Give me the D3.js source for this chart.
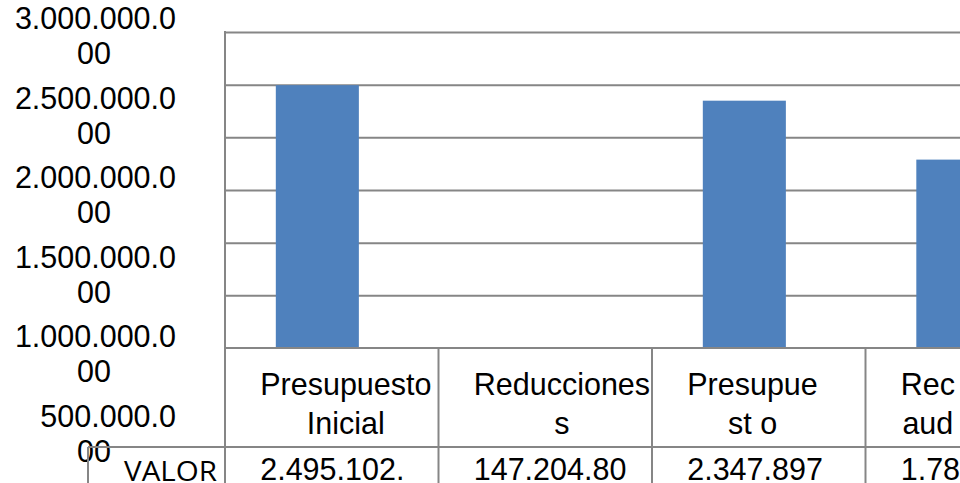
<!DOCTYPE html>
<html>
<head>
<meta charset="utf-8">
<script src="https://cdn.jsdelivr.net/npm/d3@7"></script>
<style>
  html, body { margin: 0; padding: 0; background: #fff; overflow: hidden; }
  svg { display: block; }
</style>
</head>
<body>
<svg id="chart" width="960" height="483"></svg>
<script>
// Budget summary: initial budget, reductions, final budget, collected
const categories = ["Presupuesto\nInicial", "Reducciones\ns", "Presupue\nst o", "Rec\naud"];
const values = [2495102.00, -147204.80, 2347897.20, 1788500.00];
const valueLabels = ["2.495.102.", "147.204.80", "2.347.897", "1.78"];
const rowHeader = "VALOR";
const yTicks = [500000, 1000000, 1500000, 2000000, 2500000, 3000000];
const yMax = 3000000;

const W = 960, H = 483;
const plotLeft = 225, plotTop = 32, plotBottom = 348, plotRight = 1079;
const rowH = 99, headerLeft = 88;
const gridColor = "#868686", barColor = "#4F81BD", textColor = "#000";
const font = "'Liberation Sans', Arial, sans-serif";
const fontSize = 30.5;

const svg = d3.select("#chart");

const x = d3.scaleBand().domain(categories).range([plotLeft, plotRight]);
const bw = x.bandwidth();
const y = d3.scaleLinear().domain([0, yMax]).range([plotBottom, plotTop]).clamp(true);
// wrapped tick labels run on their own, taller scale
const yLabel = d3.scaleLinear().domain([0, yMax]).range([506, 29]);

const numFmt = d3.formatLocale({ decimal: ".", thousands: ".", grouping: [3], currency: ["", ""] }).format(",.3f");

// gridlines (the top one closes the plot area)
const grid = svg.append("g")
  .attr("transform", `translate(${plotLeft},0)`)
  .call(d3.axisLeft(y).tickValues(yTicks).tickSize(-(plotRight - plotLeft)).tickFormat(""));
grid.select(".domain").remove();
grid.selectAll(".tick line").attr("stroke", gridColor).attr("stroke-width", 2);

// bars
svg.append("g").selectAll("rect")
  .data(categories.map((c, i) => ({ c, v: values[i] })))
  .join("rect")
  .attr("x", d => x(d.c) + bw * 0.238)
  .attr("width", bw * 0.389)
  .attr("y", d => y(Math.max(d.v, 0)))
  .attr("height", d => y(0) - y(Math.max(d.v, 0)))
  .attr("fill", barColor);

// y tick labels, wrapped over two lines
const tl = svg.append("g").attr("font-family", font).attr("font-size", fontSize).attr("fill", textColor);
yTicks.forEach(v => {
  const s = numFmt(v);
  tl.append("text").attr("x", 176).attr("y", yLabel(v)).attr("text-anchor", "end").text(s.slice(0, -2));
  tl.append("text").attr("x", 94).attr("y", yLabel(v) + 35).attr("text-anchor", "middle").text(s.slice(-2));
});

// data table lines
const rowTop = y(0), row2Top = y(0) + rowH;
const tbl = svg.append("g").attr("stroke", gridColor).attr("stroke-width", 2);
tbl.append("line").attr("x1", plotLeft).attr("x2", plotLeft).attr("y1", plotTop - 1).attr("y2", H);
tbl.append("line").attr("x1", plotLeft).attr("x2", plotRight).attr("y1", rowTop).attr("y2", rowTop);
tbl.append("line").attr("x1", headerLeft).attr("x2", plotRight).attr("y1", row2Top).attr("y2", row2Top);
tbl.append("line").attr("x1", headerLeft).attr("x2", headerLeft).attr("y1", row2Top).attr("y2", H);
tbl.selectAll(".col").data(categories.slice(1)).join("line")
  .attr("x1", d => x(d)).attr("x2", d => x(d))
  .attr("y1", rowTop).attr("y2", H);

// category names
const catG = svg.append("g").attr("font-family", font).attr("font-size", fontSize).attr("fill", textColor);
categories.forEach(c => {
  const lines = c.split("\n");
  const g = catG.append("g").attr("transform", `translate(${x(c) + bw * 0.165},0)`);
  const texts = lines.map((ln, j) => g.append("text").attr("y", rowTop + 47 + j * 39).text(ln));
  const wMax = d3.max(texts, t => t.node().getComputedTextLength());
  texts.forEach(t => t.attr("x", wMax / 2).attr("text-anchor", "middle"));
});

// value row
const valG = svg.append("g").attr("font-family", font).attr("font-size", fontSize).attr("fill", textColor);
valG.selectAll("text").data(categories).join("text")
  .attr("x", d => x(d) + bw * 0.165)
  .attr("y", row2Top + 33)
  .text((d, i) => valueLabels[i]);

// row header
svg.append("text")
  .attr("x", 124).attr("y", row2Top + 34)
  .attr("font-family", "'Open Sans', 'DejaVu Sans', sans-serif")
  .attr("font-size", 26.5)
  .attr("textLength", 93).attr("lengthAdjust", "spacingAndGlyphs")
  .attr("fill", textColor)
  .text(rowHeader);
</script>
</body>
</html>
